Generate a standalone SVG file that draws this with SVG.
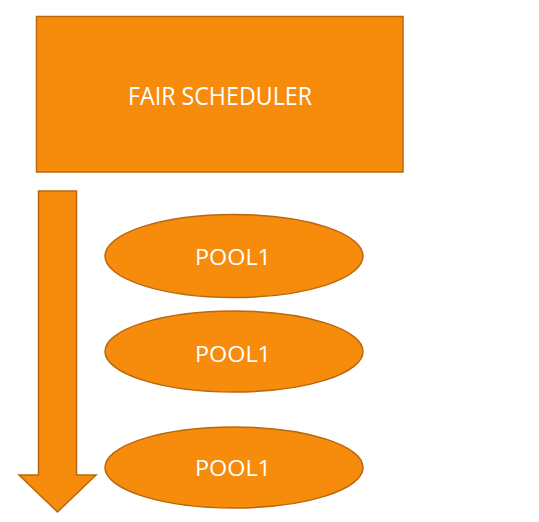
<svg xmlns="http://www.w3.org/2000/svg" width="539" height="522" viewBox="0 0 539 522">
<style>
.shape{fill:#F78B0C;stroke:#B8680E;stroke-width:1.5}
.lbl{fill:#FFFFFF;font-family:"Open Sans","Liberation Sans",Arial,sans-serif;text-anchor:middle}
</style>
<rect width="539" height="522" fill="#FFFFFF"/>
<g id="fair-scheduler">
<rect class="shape" x="36.5" y="16.5" width="366.5" height="155.5"/>
<text class="lbl" x="220" y="105" font-size="26" textLength="184" lengthAdjust="spacingAndGlyphs">FAIR SCHEDULER</text>
</g>
<g id="connectors">
<path class="shape" d="M38.5,191 L76.5,191 L76.5,475 L96,475 L57.5,512 L19,475 L38.5,475 Z"/>
</g>
<g id="pool1-a">
<ellipse class="shape" cx="234" cy="256" rx="129" ry="41.5"/>
<text class="lbl" x="233" y="265" font-size="21" textLength="76" lengthAdjust="spacingAndGlyphs">POOL1</text>
</g>
<g id="pool1-b">
<ellipse class="shape" cx="234" cy="351.5" rx="129" ry="40.5"/>
<text class="lbl" x="233" y="361.5" font-size="21" textLength="76" lengthAdjust="spacingAndGlyphs">POOL1</text>
</g>
<g id="pool1-c">
<ellipse class="shape" cx="234" cy="467.5" rx="129" ry="40.5"/>
<text class="lbl" x="233" y="476" font-size="21" textLength="76" lengthAdjust="spacingAndGlyphs">POOL1</text>
</g>
</svg>
